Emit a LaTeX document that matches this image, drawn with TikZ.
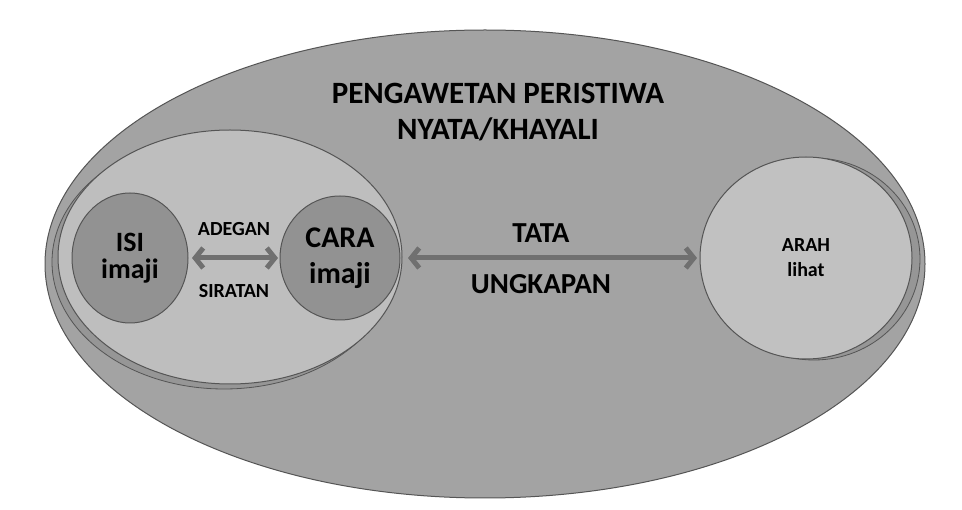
\documentclass[tikz,border=0pt]{standalone}
\usepackage{fontspec}
\setmainfont{Carlito}
\usetikzlibrary{arrows.meta,shapes.geometric}
\definecolor{abuluar}{RGB}{163,163,163}
\definecolor{abudalam}{RGB}{190,190,190}
\definecolor{abubulat}{RGB}{146,146,146}
\definecolor{abuarah}{RGB}{193,193,193}
\definecolor{abubayang}{RGB}{150,150,150}
\definecolor{abugaris}{RGB}{85,85,85}
\definecolor{abupanah}{RGB}{112,112,112}
\tikzset{
	wadah/.style={ellipse, draw=abugaris, line width=1pt, inner sep=0pt, outer sep=0pt, align=center},
	bayangan/.style={draw=abugaris, line width=0.8pt, fill=abubayang},
	panah/.style={{Straight Barb[length=8pt,width=20pt]}-{Straight Barb[length=8pt,width=20pt]}, line width=5pt, draw=abupanah},
	tekspanah/.style={font=\fontsize{20}{22}\selectfont\bfseries, inner sep=0pt},
}

\begin{document}
\begin{tikzpicture}[x=1pt, y=-1pt]
		%%%%% START %%%%%
		\useasboundingbox[fill=white] (0, 0) rectangle (962, 510);
		
		\node[wadah, fill=abuluar, minimum width=880pt, minimum height=468pt] (peristiwa) at (485, 264) {};
		\node[font=\fontsize{31}{36}\selectfont\bfseries, align=center] (judul) at (498, 112) {PENGAWETAN PERISTIWA\\NYATA/KHAYALI};
		
		\draw[bayangan] (224, 262) ellipse [x radius=172, y radius=127];
		\node[wadah, fill=abudalam, minimum width=344pt, minimum height=254pt] (adegan) at (230, 257) {};
		
		\node[wadah, fill=abubulat, minimum width=116pt, minimum height=130pt, font=\fontsize{28}{27}\selectfont\bfseries] (isi) at (130, 258) {ISI\\imaji};
		\node[wadah, fill=abubulat, minimum width=120pt, minimum height=124pt, font=\fontsize{30}{36}\selectfont\bfseries] (cara) at (340, 258) {CARA\\imaji};
		
		\draw[bayangan] (814, 259) ellipse [x radius=106, y radius=101];
		\node[wadah, fill=abuarah, minimum width=212pt, minimum height=202pt, font=\fontsize{20}{25}\selectfont\bfseries] (arah) at (806, 258) {ARAH\\lihat};
		
		\draw[panah, shorten <=4pt, shorten >=2pt] (isi) -- (cara)
			node[tekspanah, midway, above=20pt] (adeganteks) {ADEGAN}
			node[tekspanah, midway, below=24pt] (siratan) {SIRATAN};
		\draw[panah, shorten <=8pt, shorten >=3pt] (cara) -- (arah)
			node[font=\fontsize{29}{30}\selectfont\bfseries, inner sep=0pt, pos=0.47, above=13pt] (tata) {TATA}
			node[font=\fontsize{29}{30}\selectfont\bfseries, inner sep=0pt, pos=0.47, below=14pt] (ungkapan) {UNGKAPAN};
		
		%%%%% END %%%%%
	\end{tikzpicture}
\end{document}
